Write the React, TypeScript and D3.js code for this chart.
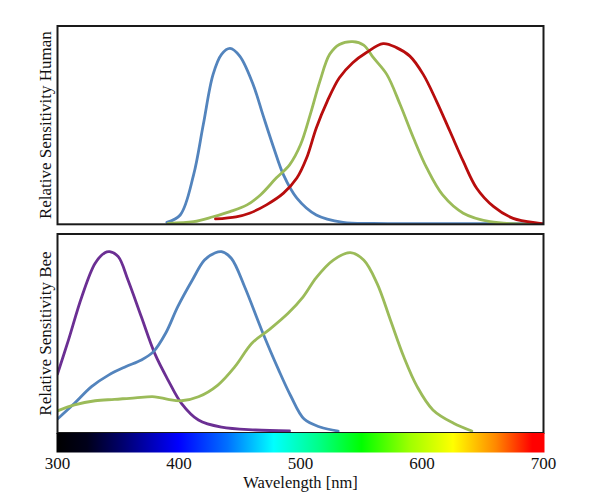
import React from "react";
import * as d3 from "d3";

// Human cone sensitivities [wavelength nm, relative sensitivity]
const humanS: [number, number][] = [
  [390, 0.01], [401, 0.047], [412, 0.249], [420, 0.503], [428, 0.755], [435, 0.857],
  [442, 0.887], [450, 0.848], [461, 0.705], [469, 0.553], [478, 0.385], [486, 0.249],
  [497, 0.132], [513, 0.047], [535, 0.01], [560, 0.004], [620, 0.003], [700, 0.003],
];
const humanM: [number, number][] = [
  [391, 0.005], [412, 0.013], [428, 0.038], [442, 0.064], [456, 0.098], [467, 0.148],
  [480, 0.233], [491, 0.3], [500, 0.401], [508, 0.553], [516, 0.722], [524, 0.857],
  [532, 0.907], [543, 0.921], [552, 0.904], [560, 0.84], [571, 0.756], [582, 0.604],
  [593, 0.435], [604, 0.283], [617, 0.148], [634, 0.056], [656, 0.013], [678, 0.002], [700, 0.0],
];
const humanL: [number, number][] = [
  [430, 0.027], [447, 0.038], [458, 0.056], [472, 0.098], [486, 0.157], [497, 0.233],
  [505, 0.334], [513, 0.486], [522, 0.62], [532, 0.739], [543, 0.815], [554, 0.865],
  [568, 0.911], [579, 0.891], [590, 0.848], [601, 0.756], [612, 0.62], [623, 0.469],
  [634, 0.317], [645, 0.182], [659, 0.089], [675, 0.03], [697, 0.005], [700, 0.002],
];

// Bee photoreceptor sensitivities
const beeUV: [number, number][] = [
  [300, 0.296], [309, 0.467], [320, 0.685], [331, 0.853], [339, 0.906], [343, 0.911],
  [350, 0.886], [358, 0.769], [369, 0.584], [380, 0.4], [391, 0.266], [402, 0.149],
  [416, 0.065], [435, 0.029], [463, 0.015], [491, 0.01],
];
const beeBlue: [number, number][] = [
  [300, 0.07], [314, 0.149], [328, 0.233], [342, 0.291], [356, 0.333], [369, 0.367],
  [379, 0.409], [389, 0.501], [399, 0.635], [411, 0.769], [421, 0.869], [430, 0.906],
  [435, 0.911], [443, 0.878], [454, 0.735], [468, 0.518], [482, 0.317], [492, 0.186],
  [503, 0.07], [516, 0.03], [531, 0.01],
];
const beeGreen: [number, number][] = [
  [300, 0.111], [314, 0.141], [331, 0.162], [347, 0.169], [364, 0.177], [380, 0.182],
  [391, 0.169], [402, 0.162], [416, 0.182], [432, 0.241], [446, 0.333], [460, 0.451],
  [474, 0.518], [490, 0.603], [502, 0.683], [513, 0.781], [527, 0.869], [541, 0.906],
  [552, 0.869], [563, 0.752], [574, 0.568], [585, 0.383], [596, 0.233], [609, 0.116],
  [626, 0.049], [641, 0.01],
];

const xTicks = [300, 400, 500, 600, 700];
const panelLabels = ["Relative Sensitivity Human", "Relative Sensitivity Bee"];

// Spectrum colour stops [wavelength, colour]
const spectrumStops: [number, string][] = [
  [300, "#000000"], [325, "#00001a"], [355, "#000070"], [400, "#0000ff"],
  [440, "#0070ff"], [478, "#00ffff"], [515, "#00ff88"], [550, "#00ff00"],
  [590, "#a0ff00"], [625, "#ffff00"], [660, "#ff8800"], [690, "#ff0000"], [700, "#ff0000"],
];

const COLORS = {
  blue: "#5384bd",
  green: "#9bbb59",
  red: "#b80d0d",
  purple: "#6b2f93",
};

export default function App() {
  const W = 600, H = 504;
  const x0 = 57.5, x1 = 543.5;
  const x = d3.scaleLinear().domain([300, 700]).range([x0, x1]);
  const panels = [
    { top: 26, bottom: 224.3, label: panelLabels[0], series: [
      { data: humanS, color: COLORS.blue },
      { data: humanM, color: COLORS.green },
      { data: humanL, color: COLORS.red },
    ] },
    { top: 234, bottom: 433, label: panelLabels[1], series: [
      { data: beeUV, color: COLORS.purple },
      { data: beeBlue, color: COLORS.blue },
      { data: beeGreen, color: COLORS.green },
    ] },
  ];
  const barTop = 433, barBottom = 452.5;
  const font = "'Liberation Serif', 'Times New Roman', serif";

  return (
    <svg width={W} height={H} style={{ position: "absolute", left: 0, top: 0, background: "#fff" }}
      fontFamily={font}>
      <defs>
        <linearGradient id="spec" x1="0" x2="1" y1="0" y2="0">
          {spectrumStops.map(([w, c], i) => (
            <stop key={i} offset={`${((w - 300) / 400) * 100}%`} stopColor={c} />
          ))}
        </linearGradient>
        {panels.map((p, i) => (
          <clipPath id={`clip${i}`} key={i}>
            <rect x={x0} y={p.top} width={x1 - x0} height={p.bottom - p.top} />
          </clipPath>
        ))}
      </defs>
      <rect x={0} y={0} width={W} height={H} fill="#fff" />
      {panels.map((p, i) => {
        const y = d3.scaleLinear().domain([0, 1]).range([p.bottom, p.top]);
        const line = d3.line<[number, number]>()
          .x((d) => x(d[0]))
          .y((d) => y(d[1]))
          .curve(d3.curveCatmullRom.alpha(0.5));
        const cy = (p.top + p.bottom) / 2;
        return (
          <g key={i}>
            <g clipPath={`url(#clip${i})`}>
              {p.series.map((s, j) => (
                <path key={j} d={line(s.data) || ""} fill="none" stroke={s.color}
                  strokeWidth={2.8} strokeLinejoin="round" strokeLinecap="round" />
              ))}
            </g>
            <rect x={x0} y={p.top} width={x1 - x0} height={p.bottom - p.top}
              fill="none" stroke="#1a1a1a" strokeWidth={2} />
            <text transform={`translate(51,${cy}) rotate(-90)`} textAnchor="middle"
              fontSize={17} fill="#111">{p.label}</text>
          </g>
        );
      })}
      <rect x={x0 - 1} y={barTop} width={x1 - x0 + 2} height={barBottom - barTop} fill="url(#spec)" />
      {xTicks.map((t) => (
        <text key={t} x={x(t)} y={469} textAnchor="middle" fontSize={17} fill="#111">{t}</text>
      ))}
      <text x={(x0 + x1) / 2} y={488} textAnchor="middle" fontSize={16.5} fill="#111">Wavelength [nm]</text>
    </svg>
  );
}
